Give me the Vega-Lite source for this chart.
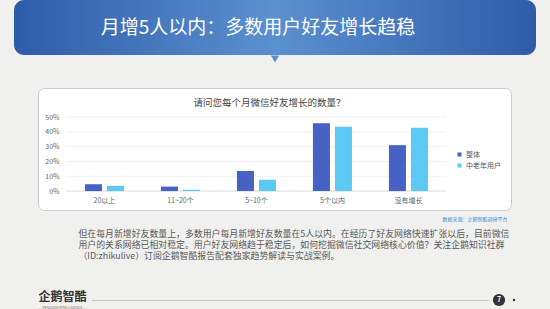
{
  "$schema": "https://vega.github.io/schema/vega-lite/v6.json",
  "background": "#f0f0ee",
  "padding": 0,
  "spacing": 0,
  "config": {"view": {"stroke": null}, "font": "Noto Sans CJK SC"},
  "vconcat": [
    {
      "hconcat": [
        {"width": 14, "height": 55, "data": {"values": []}, "mark": "point"},
        {
          "width": 522, "height": 55,
          "view": {"cornerRadius": 10, "fill": {"gradient": "linear", "x1": 0, "x2": 1, "y1": 0, "y2": 0, "stops": [{"offset": 0, "color": "#2f5ca8"}, {"offset": 0.5, "color": "#5a90d0"}, {"offset": 1, "color": "#2f5ca8"}]}},
          "data": {"values": [{"t": "月增5人以内：多数用户好友增长趋稳"}]},
          "mark": {"type": "text", "fontSize": 19, "color": "#ffffff", "dx": -17},
          "encoding": {"text": {"field": "t"}}
        }
      ],
      "spacing": 0
    },
    {
      "width": 550, "height": 8,
      "data": {"values": [{"k": 1}]},
      "mark": {"type": "point", "shape": "triangle-down", "filled": true, "color": "#5a8fd0", "opacity": 1, "size": 70}
    },
    {"width": 1, "height": 24, "data": {"values": []}, "mark": "point"},
    {
      "hconcat": [
        {"width": 37, "height": 122, "data": {"values": []}, "mark": "point"},
        {
          "width": 473, "height": 122,
          "view": {"fill": "#ffffff", "stroke": "#cccccc", "strokeWidth": 1, "cornerRadius": 6},
          "title": {"text": "请问您每个月微信好友增长的数量？", "fontSize": 9.5, "fontWeight": "normal", "color": "#444444", "offset": -19, "dx": -5},
          "layer": [
            {
              "data": {"values": [{"value": 0.1}, {"value": 0.2}, {"value": 0.3}, {"value": 0.4}, {"value": 0.5}]},
              "mark": {"type": "rule", "color": "#f0f0f0", "strokeWidth": 1},
              "encoding": {
                "y": {
                  "field": "value", "type": "quantitative",
                  "scale": {"domain": [-0.128, 0.696], "nice": false, "zero": false},
                  "axis": {"values": [0, 0.1, 0.2, 0.3, 0.4, 0.5], "format": ".0%", "grid": false, "domain": false, "ticks": false, "offset": -24, "labelFontSize": 7, "labelColor": "#666666", "labelPadding": 3, "title": null}
                },
                "x": {
                  "datum": "20以上", "type": "nominal", "bandPosition": 0,
                  "scale": {"domain": ["20以上", "11~20个", "5~10个", "5个以内", "没有增长"], "paddingInner": 0, "paddingOuter": 0.612, "align": 0.306},
                  "axis": {"title": null, "labelAngle": 0, "labelFontSize": 7, "labelColor": "#666666", "labelPadding": 5, "ticks": false, "domain": false, "offset": -19}
                },
                "x2": {"datum": "没有增长", "bandPosition": 1}
              }
            },
            {
              "data": {"values": [{"value": 0}]},
              "mark": {"type": "rule", "color": "#d9d9d9", "strokeWidth": 1},
              "encoding": {
                "y": {
                  "field": "value", "type": "quantitative",
                  "scale": {"domain": [-0.128, 0.696], "nice": false, "zero": false},
                  "axis": {"values": [0, 0.1, 0.2, 0.3, 0.4, 0.5], "format": ".0%", "grid": false, "domain": false, "ticks": false, "offset": -24, "labelFontSize": 7, "labelColor": "#666666", "labelPadding": 3, "title": null}
                },
                "x": {
                  "datum": "20以上", "type": "nominal", "bandPosition": 0,
                  "scale": {"domain": ["20以上", "11~20个", "5~10个", "5个以内", "没有增长"], "paddingInner": 0, "paddingOuter": 0.612, "align": 0.306},
                  "axis": {"title": null, "labelAngle": 0, "labelFontSize": 7, "labelColor": "#666666", "labelPadding": 5, "ticks": false, "domain": false, "offset": -19}
                },
                "x2": {"datum": "没有增长", "bandPosition": 1}
              }
            },
            {
              "data": {"values": [
                {"cat": "20以上", "group": "整体", "value": 0.046},
                {"cat": "20以上", "group": "中老年用户", "value": 0.035},
                {"cat": "11~20个", "group": "整体", "value": 0.030},
                {"cat": "11~20个", "group": "中老年用户", "value": 0.008},
                {"cat": "5~10个", "group": "整体", "value": 0.135},
                {"cat": "5~10个", "group": "中老年用户", "value": 0.076},
                {"cat": "5个以内", "group": "整体", "value": 0.458},
                {"cat": "5个以内", "group": "中老年用户", "value": 0.434},
                {"cat": "没有增长", "group": "整体", "value": 0.310},
                {"cat": "没有增长", "group": "中老年用户", "value": 0.428}
              ]},
              "mark": {"type": "bar"},
              "encoding": {
                "x": {
                  "field": "cat", "type": "nominal",
                  "scale": {"domain": ["20以上", "11~20个", "5~10个", "5个以内", "没有增长"], "paddingInner": 0, "paddingOuter": 0.612, "align": 0.306},
                  "axis": {"title": null, "labelAngle": 0, "labelFontSize": 7, "labelColor": "#666666", "labelPadding": 5, "ticks": false, "domain": false, "offset": -19}
                },
                "xOffset": {"field": "group", "type": "nominal", "scale": {"domain": ["整体", "中老年用户"], "paddingInner": 0.227, "paddingOuter": 0.84}},
                "y": {
                  "field": "value", "type": "quantitative",
                  "scale": {"domain": [-0.128, 0.696], "nice": false, "zero": false},
                  "axis": {"values": [0, 0.1, 0.2, 0.3, 0.4, 0.5], "format": ".0%", "grid": false, "domain": false, "ticks": false, "offset": -24, "labelFontSize": 7, "labelColor": "#666666", "labelPadding": 3, "title": null}
                },
                "color": {
                  "field": "group", "type": "nominal",
                  "scale": {"domain": ["整体", "中老年用户"], "range": ["#4662c5", "#5bc9f2"]},
                  "legend": {"orient": "none", "legendX": 456, "legendY": 151, "title": null, "symbolType": "square", "symbolSize": 16, "labelFontSize": 7, "labelColor": "#555555", "rowPadding": 3, "padding": 0, "labelOffset": 3}
                }
              }
            }
          ]
        }
      ],
      "spacing": 0
    },
    {
      "hconcat": [
        {"width": 442, "height": 17.6, "data": {"values": []}, "mark": "point"},
        {
          "width": 1, "height": 17.6,
          "data": {"values": [{"t": "数据来源：企鹅智酷调研平台"}]},
          "mark": {"type": "text", "align": "left", "fontSize": 5, "color": "#3a8fd6", "dy": -1},
          "encoding": {"text": {"field": "t"}}
        }
      ],
      "spacing": 0
    },
    {
      "hconcat": [
        {"width": 78, "height": 32.5, "data": {"values": []}, "mark": "point"},
        {
          "width": 1, "height": 32.5,
          "data": {"values": [
            {"line": 1, "t": "但在每月新增好友数量上，多数用户每月新增好友数量在5人以内。在经历了好友网络快速扩张以后，目前微信"},
            {"line": 2, "t": "用户的关系网络已相对稳定。用户好友网络趋于稳定后，如何挖掘微信社交网络核心价值？关注企鹅知识社群"},
            {"line": 3, "t": "（ID:zhikulive）订阅企鹅智酷报告配套独家趋势解读与实战案例。"}
          ]},
          "mark": {"type": "text", "align": "left", "fontSize": 8.9, "color": "#595959"},
          "encoding": {
            "y": {"field": "line", "type": "ordinal", "axis": null},
            "text": {"field": "t"}
          }
        }
      ],
      "spacing": 0
    },
    {"width": 1, "height": 26.4, "data": {"values": []}, "mark": "point"},
    {
      "hconcat": [
        {"width": 38, "height": 22, "data": {"values": []}, "mark": "point"},
        {
          "width": 47, "height": 22,
          "layer": [
            {
              "data": {"values": [{"t": "企鹅智酷"}]},
              "mark": {"type": "text", "fontSize": 12, "fontWeight": "bold", "color": "#333333", "dy": -3},
              "encoding": {"text": {"field": "t"}}
            },
            {
              "data": {"values": [{"t": "— PENGUIN INTELLIGENCE —"}]},
              "mark": {"type": "text", "fontSize": 3.5, "color": "#666666", "dy": 8},
              "encoding": {"text": {"field": "t"}}
            }
          ]
        },
        {"width": 5, "height": 22, "data": {"values": []}, "mark": "point"},
        {
          "vconcat": [
            {"width": 397, "height": 11, "data": {"values": []}, "mark": "point"},
            {"width": 397, "height": 1, "view": {"fill": "#c8c8c8"}, "data": {"values": []}, "mark": "point"}
          ],
          "spacing": 0
        },
        {
          "width": 20, "height": 22,
          "layer": [
            {
              "data": {"values": [{"t": "7"}]},
              "mark": {"type": "point", "shape": "circle", "filled": true, "color": "#333333", "opacity": 1, "size": 150}
            },
            {
              "data": {"values": [{"t": "7"}]},
              "mark": {"type": "text", "fontSize": 7, "fontWeight": "bold", "color": "#ffffff"},
              "encoding": {"text": {"field": "t"}}
            }
          ]
        },
        {
          "width": 10, "height": 22,
          "data": {"values": [{"k": 1}]},
          "mark": {"type": "point", "shape": "circle", "filled": true, "color": "#333333", "opacity": 1, "size": 6}
        }
      ],
      "spacing": 0
    }
  ]
}
